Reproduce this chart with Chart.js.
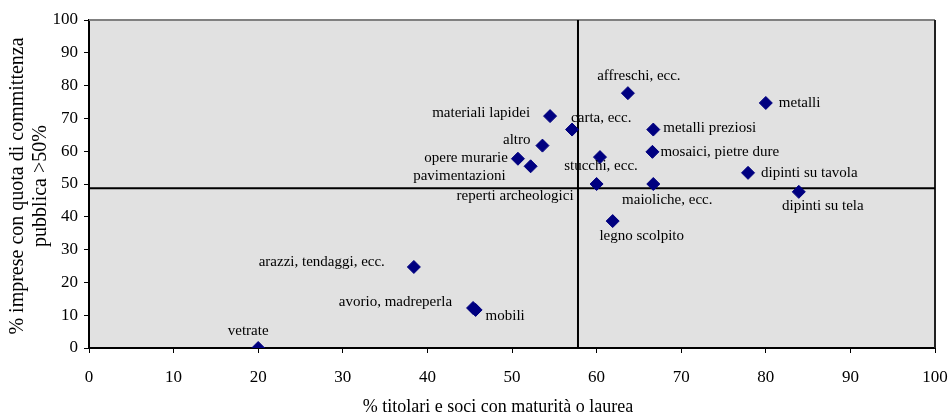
<!DOCTYPE html>
<html>
<head>
<meta charset="utf-8">
<script src="https://cdn.jsdelivr.net/npm/chart.js@4.4.1/dist/chart.umd.min.js"></script>
<style>
  html, body { margin: 0; padding: 0; background: #ffffff; }
  #wrap { width: 951px; height: 418px; }
</style>
</head>
<body>
<div id="wrap"><canvas id="c" width="951" height="418"></canvas></div>
<script>
// Settori di restauro
const categories = [
  "affreschi, ecc.", "materiali lapidei", "carta, ecc.", "metalli preziosi",
  "altro", "mosaici, pietre dure", "opere murarie", "pavimentazioni",
  "stucchi, ecc.", "reperti archeologici", "maioliche, ecc.", "legno scolpito",
  "metalli", "dipinti su tavola", "dipinti su tela", "arazzi, tendaggi, ecc.",
  "avorio, madreperla", "mobili", "vetrate"
];
// % titolari e soci con maturità o laurea
const xValues = [63.7, 54.5, 57.1, 66.7, 53.6, 66.6, 50.7, 52.2, 60.4, 60.0,
                 66.7, 61.9, 80.0, 77.9, 83.9, 38.4, 45.4, 45.7, 20.0];
// % imprese con quota di committenza pubblica >50%
const yValues = [77.7, 70.7, 66.6, 66.6, 61.7, 59.8, 57.7, 55.4, 58.2, 50.0,
                 50.0, 38.7, 74.7, 53.4, 47.6, 24.7, 12.2, 11.6, 0.0];
// valori medi (linee di riferimento)
const meanX = 57.8;
const meanY = 48.7;
const axisTicks = [0, 10, 20, 30, 40, 50, 60, 70, 80, 90, 100];

// posizione delle etichette rispetto al punto: [dx, dy, allineamento]
const labelPlacement = [
  [11, -17, "center"], [-20, -3, "right"], [-1, -11, "left"], [10, -1, "left"],
  [-12, -6, "right"], [8, 0, "left"], [-10, -1, "right"], [-25, 10, "right"],
  [1, 9, "center"], [-23, 12, "right"], [14, 16, "center"], [29, 15, "center"],
  [13, 0, "left"], [13, 0, "left"], [24, 14, "center"], [-29, -5, "right"],
  [-21, -6, "right"], [10, 6, "left"], [-10, -17, "center"]
];

const FONT = "'Liberation Serif', 'Times New Roman', serif";

const points = xValues.map((x, i) => ({ x: x, y: yValues[i] }));

const plotDecor = {
  id: "plotDecor",
  beforeDraw(chart) {
    const { ctx, chartArea: a } = chart;
    ctx.save();
    ctx.fillStyle = "#e1e1e1";
    ctx.fillRect(a.left, a.top, a.right - a.left, a.bottom - a.top);
    ctx.restore();
  },
  beforeDatasetsDraw(chart) {
    const { ctx, chartArea: a, scales } = chart;
    ctx.save();
    // bordo dell'area del grafico
    ctx.strokeStyle = "#808080";
    ctx.lineWidth = 2;
    ctx.beginPath();
    ctx.moveTo(a.left, a.top);
    ctx.lineTo(a.right, a.top);
    ctx.stroke();
    ctx.strokeStyle = "#202020";
    ctx.beginPath();
    ctx.moveTo(a.right, a.top);
    ctx.lineTo(a.right, a.bottom);
    ctx.stroke();
    // linee dei valori medi
    ctx.strokeStyle = "#000000";
    ctx.lineWidth = 2;
    const vx = scales.x.getPixelForValue(meanX);
    const hy = scales.y.getPixelForValue(meanY);
    ctx.beginPath();
    ctx.moveTo(vx, a.top);
    ctx.lineTo(vx, a.bottom);
    ctx.moveTo(a.left, hy);
    ctx.lineTo(a.right, hy);
    ctx.stroke();
    ctx.restore();
  },
  afterDatasetsDraw(chart) {
    const { ctx, scales } = chart;
    ctx.save();
    ctx.font = "15px " + FONT;
    ctx.fillStyle = "#000000";
    ctx.textBaseline = "middle";
    categories.forEach((name, i) => {
      const px = scales.x.getPixelForValue(xValues[i]);
      const py = scales.y.getPixelForValue(yValues[i]);
      const p = labelPlacement[i];
      ctx.textAlign = p[2];
      ctx.fillText(name, px + p[0], py + p[1]);
    });
    // titoli degli assi
    ctx.textAlign = "center";
    ctx.font = "18px " + FONT;
    ctx.fillText("% titolari e soci con maturità o laurea", 498, 407);
    ctx.font = "20px " + FONT;
    ctx.save();
    ctx.translate(18, 186);
    ctx.rotate(-Math.PI / 2);
    ctx.fillText("% imprese con quota di committenza", 0, 0);
    ctx.fillText("pubblica >50%", 0, 23);
    ctx.restore();
    ctx.restore();
  }
};

new Chart(document.getElementById("c"), {
  type: "scatter",
  data: {
    datasets: [{
      data: points,
      pointStyle: "rectRot",
      pointRadius: 6.5,
      pointHoverRadius: 6.5,
      backgroundColor: "#000080",
      borderColor: "#000080",
      borderWidth: 1
    }]
  },
  options: {
    responsive: false,
    animation: false,
    events: [],
    layout: { padding: { left: 0, top: 20, right: 16, bottom: 0 } },
    plugins: { legend: { display: false }, tooltip: { enabled: false } },
    scales: {
      x: {
        type: "linear",
        min: 0, max: 100,
        afterFit(scale) { scale.height = 70; scale.paddingRight = 0; scale.paddingLeft = 0; },
        afterBuildTicks(scale) { scale.ticks = axisTicks.map(v => ({ value: v })); },
        grid: { drawOnChartArea: false, color: "#000000", tickLength: 5, tickWidth: 1 },
        border: { color: "#000000", width: 2 },
        ticks: { color: "#000000", font: { family: FONT, size: 17 }, padding: 14, maxRotation: 0 }
      },
      y: {
        type: "linear",
        min: 0, max: 100,
        afterFit(scale) { scale.width = 89; scale.paddingTop = 0; scale.paddingBottom = 0; },
        afterBuildTicks(scale) { scale.ticks = axisTicks.map(v => ({ value: v })); },
        grid: { drawOnChartArea: false, color: "#000000", tickLength: 5, tickWidth: 1 },
        border: { color: "#000000", width: 2 },
        ticks: { color: "#000000", font: { family: FONT, size: 17 }, padding: 6 }
      }
    }
  },
  plugins: [plotDecor]
});
</script>
</body>
</html>
